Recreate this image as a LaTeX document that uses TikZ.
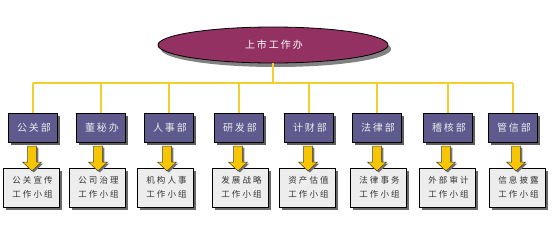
\documentclass[tikz,border=0pt]{standalone}
\usepackage{fontspec}
\newfontfamily\cjk{Noto Sans CJK SC}
\newfontfamily\cjkwide{Noto Sans CJK SC}[LetterSpace=20]
\newfontfamily\cjkgrp{Noto Sans CJK SC}[LetterSpace=25]
\usetikzlibrary{shapes.geometric,shadows,calc}
\definecolor{topfill}{HTML}{933162}
\definecolor{deptfill}{HTML}{5E5A8E}
\definecolor{grpfill}{HTML}{EDEDED}
\definecolor{linkyellow}{HTML}{F2CF2C}
\definecolor{arrowyellow}{HTML}{F7C600}
\tikzset{
  topnode/.style={ellipse, draw=black, line width=0.8pt, fill=topfill, minimum width=230pt, minimum height=36pt,
    inner sep=0pt, text=white, font=\cjkwide\fontsize{10}{12}\selectfont,
    drop shadow={shadow xshift=3pt, shadow yshift=-4pt, fill=black!55, opacity=0.9}},
  deptbox/.style={rectangle, draw=black, line width=0.8pt, fill=deptfill, minimum width=49pt, minimum height=29pt,
    inner sep=0pt, text=white!92!black, font=\cjkwide\fontsize{10}{12}\selectfont,
    drop shadow={shadow xshift=2.5pt, shadow yshift=-2.5pt, fill=black!70, opacity=0.9}},
  grpbox/.style={rectangle, draw=black, line width=0.7pt, fill=grpfill, minimum width=56pt, minimum height=39pt,
    inner sep=0pt, align=center, text=black!80, font=\cjkgrp\fontsize{8.5}{14}\selectfont,
    drop shadow={shadow xshift=2.5pt, shadow yshift=-2.5pt, fill=black!65, opacity=0.9}},
  link/.style={draw=linkyellow, line width=1.3pt},
  blockarrow/.style={fill=arrowyellow, draw=black!75, line width=0.5pt, line join=miter},
  arrowshadow/.style={fill=black!55},
}
\begin{document}
\begin{tikzpicture}[x=1pt,y=-1pt]
\useasboundingbox (0,0) rectangle (552,228);
\node[topnode] (top) at (273,45) {\kern2pt上市工作办};
\coordinate (hub) at (273,83);
\coordinate (hl) at (33,83);
\coordinate (hr) at (513,83);
\draw[link] (top.south) -- (hub);
\draw[link] (hl) -- (hr);
\foreach \i/\xt/\xb/\xa/\dname/\ga/\gb in {
  1/33/31.5/32/公关部/公关宣传/工作小组,
  2/101/97.5/98/董秘办/公司治理/工作小组,
  3/169/165.5/167/人事部/机构人事/工作小组,
  4/239/240.5/238/研发部/发展战略/工作小组,
  5/309/307.5/308/计财部/资产估值/工作小组,
  6/377/378.5/377/法律部/法律事务/工作小组,
  7/448/447.5/446/稽核部/外部审计/工作小组,
  8/513/517.5/516/管信部/信息披露/工作小组}{
  \node[deptbox] (d\i) at (\xt,127.5) {\kern2pt\dname};
  \node[grpbox] (g\i) at (\xb,187.5) {\kern2.1pt\ga\\\kern2.1pt\gb};
  \draw[link] (\xt,83) -- (d\i.north);
  \coordinate (a\i) at (\xa,146);
  \coordinate (s\i) at (\xa+1.8,147.5);
  \fill[arrowshadow] ($(s\i)+(-4.5,0)$) -- ($(s\i)+(4.5,0)$) -- ($(s\i)+(4.5,16)$) -- ($(s\i)+(9.5,16)$)
     -- ($(s\i)+(0,25)$) -- ($(s\i)+(-9.5,16)$) -- ($(s\i)+(-4.5,16)$) -- cycle;
  \filldraw[blockarrow] ($(a\i)+(-4.5,0)$) -- ($(a\i)+(4.5,0)$) -- ($(a\i)+(4.5,16)$) -- ($(a\i)+(9.5,16)$)
     -- ($(a\i)+(0,25)$) -- ($(a\i)+(-9.5,16)$) -- ($(a\i)+(-4.5,16)$) -- cycle;
}
\end{tikzpicture}
\end{document}
